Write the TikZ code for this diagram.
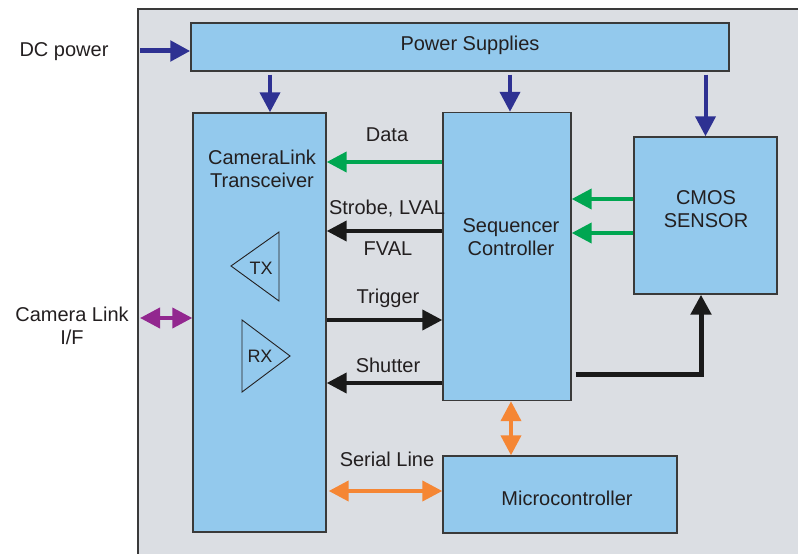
\documentclass[tikz,border=0pt]{standalone}
\usepackage{fontspec}
\setmainfont{Liberation Sans}
\usetikzlibrary{arrows.meta,calc}
\definecolor{bgPanel}{HTML}{DBDEE3}
\definecolor{boxFill}{HTML}{93C9ED}
\definecolor{lineDark}{HTML}{3A3A3A}
\definecolor{textDark}{HTML}{231F20}
\definecolor{cPower}{HTML}{2E3192}
\definecolor{cData}{HTML}{00A651}
\definecolor{cSerial}{HTML}{F58634}
\definecolor{cLink}{HTML}{92278F}
\definecolor{cCtrl}{HTML}{1A1A1A}
\tikzset{
  block/.style={draw=lineDark,line width=1.4bp,fill=boxFill,inner sep=0pt},
  wire/.style={line width=4bp,-{Triangle[length=20bp,width=20bp]}},
  wire both/.style={line width=4bp,
                    {Triangle[length=20bp,width=20bp]}-{Triangle[length=20bp,width=20bp]}},
  amp/.style={draw=textDark,line width=0.9bp,line join=miter},
}

\begin{document}
\begin{tikzpicture}[x=1bp,y=-1bp,
          every node/.style={font=\fontsize{20bp}{23bp}\selectfont,
                             text=textDark,align=center,inner sep=0pt},
        ]
        \useasboundingbox (0,0) rectangle (798,554);
        \clip (0,0) rectangle (798,554);
        \draw[draw=lineDark,line width=1.4bp,fill=bgPanel] (138,9) rectangle (812,570);

        \node[block,minimum width=538bp,minimum height=48bp] (power) at (460,47) {};
        \node[block,minimum width=133bp,minimum height=419bp] (clink) at (259.5,322.5) {};
        \node[block,minimum width=128bp,minimum height=288bp] (seq) at (507,256.5) {};
        \node[block,minimum width=143bp,minimum height=157bp] (cmos) at (705.5,215.5) {};
        \node[block,minimum width=234bp,minimum height=77bp] (micro) at (560,494.5) {};

        \node (powertxt) at (470,45) {Power Supplies};
        \node (clinktxt) at (262,169) {CameraLink\\Transceiver};
        \node (seqtxt) at (511,237) {Sequencer\\Controller};
        \node (cmostxt) at (706,209) {CMOS\\SENSOR};
        \node (microtxt) at (567,498) {Microcontroller};

        \draw[amp] (231,266) -- (279,232) -- (279,301) -- cycle;
        \draw[amp] (242,320) -- (290,356) -- (242,392) -- cycle;
        \node[font=\fontsize{18bp}{21bp}\selectfont] (tx) at (261,268) {TX};
        \node[font=\fontsize{18bp}{21bp}\selectfont] (rx) at (260,356) {RX};

        \node (dctxt) at (64,52) {DC power};
        \node (clitxt) at (72,326) {Camera Link\\I/F};
        \node (datatxt) at (387,135) {Data};
        \node (strobetxt) at (387,209) {Strobe, LVAL};
        \node (fvaltxt) at (388,249) {FVAL};
        \node (trigtxt) at (388,298) {Trigger};
        \node (shuttxt) at (388,365) {Shutter};
        \node (serialtxt) at (387,459) {Serial Line};

        \coordinate (dcin) at (140,51);
        \coordinate (cliin) at (140,318);

        \draw[wire,cPower,line width=5bp] (dcin) -- (dcin -| power.west);
        \foreach \x/\dst in {270/clink,510/seq}
          \draw[wire,cPower,shorten <=3bp] (power.south -| \x,0) -- (\dst.north -| \x,0);
        \draw[wire,cPower,shorten <=3bp] (power.south -| cmos.north) -- (cmos.north);

        \draw[wire,cData] (seq.west |- 0,162) -- (clink.east |- 0,162);
        \foreach \y in {199,233}
          \draw[wire,cData] (cmos.west |- 0,\y) -- (seq.east |- 0,\y);

        \draw[wire,cCtrl] (seq.west |- 0,231) -- (clink.east |- 0,231);
        \draw[wire,cCtrl] (clink.east |- 0,320) -- (seq.west |- 0,320);
        \draw[wire,cCtrl] (seq.west |- 0,383) -- (clink.east |- 0,383);
        \draw[wire,cCtrl,line width=5bp,shorten <=4bp]
              (seq.east |- 0,374) -| (cmos.south -| 701,0);

        \draw[wire both,cSerial] (seq.south -| 511,0) -- (micro.north -| 511,0);
        \draw[wire both,cSerial,shorten <=2bp] (clink.east |- 0,491) -- (micro.west |- 0,491);
        \draw[wire both,cLink] (cliin) -- (cliin -| clink.west);
      \end{tikzpicture}
\end{document}
